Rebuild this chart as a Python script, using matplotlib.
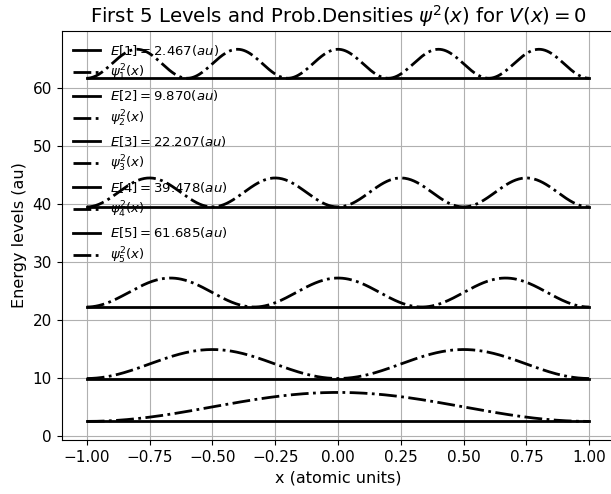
import numpy as np
import matplotlib
matplotlib.use("Agg")
import matplotlib.pyplot as plt

levels = [1, 2, 3, 4, 5]
energies = [2.467, 9.870, 22.207, 39.478, 61.685]
psi_scale = 5.0
x_left, x_right = -1.0, 1.0

fig = plt.figure(figsize=(6.11, 4.94), dpi=100)
ax = fig.add_axes([0.1008, 0.1093, 0.9047, 0.8286])

x = np.linspace(x_left, x_right, 500)
width = x_right - x_left
for n, E in zip(levels, energies):
    ax.plot([x_left, x_right], [E, E], color="black", lw=2,
            label=r"$E[%d] = %.3f (au)$" % (n, E))
    psi2 = (2.0 / width) * np.sin(n * np.pi * (x - x_left) / width) ** 2
    ax.plot(x, E + psi_scale * psi2, color="black", lw=2, ls="-.",
            label=r"$\psi_{%d}^2(x)$" % n)

ax.grid(True)
ax.tick_params(labelsize=11)
ax.set_xlabel("x (atomic units)", fontsize=11.5)
ax.set_ylabel("Energy levels (au)", fontsize=11.5)
ax.set_title(r"First 5 Levels and Prob.Densities $\psi^2(x)$ for $V(x) = 0$",
             fontsize=14.2)
ax.legend(loc="upper left", frameon=False, fontsize=9.5, labelspacing=0.4)
fig.savefig("out.png", dpi=100)
